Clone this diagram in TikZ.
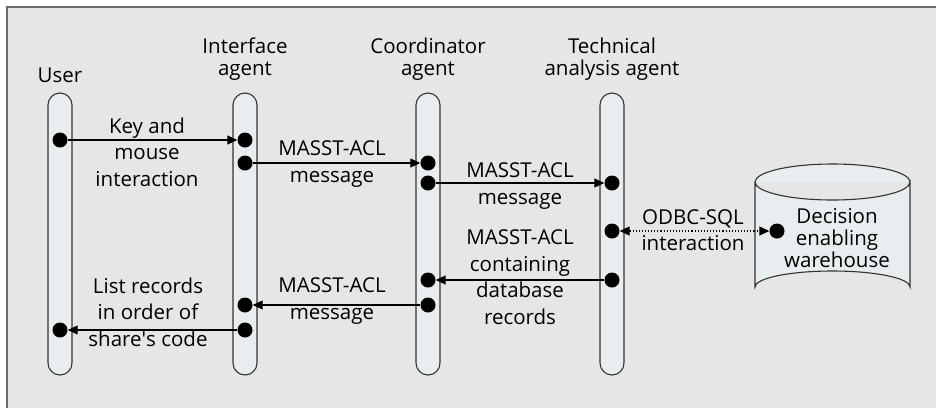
\documentclass[tikz,border=0pt]{standalone}
\usepackage{fontspec}
\setmainfont{Open Sans}
\usetikzlibrary{arrows.meta}
\definecolor{bggray}{HTML}{E6E6E6}
\definecolor{framegray}{HTML}{6A6A6A}
\definecolor{lanefill}{HTML}{E8EEF0}
\tikzset{
	lane/.style={draw=black!80, fill=lanefill, line width=1.1pt, rounded corners=12pt,
		minimum width=24pt, minimum height=282pt, inner sep=0pt},
	msgdot/.style={circle, fill=black, minimum size=15pt, inner sep=0pt},
	msg/.style={line width=1.1pt, -{Triangle[length=10pt,width=9pt]}},
	txt/.style={align=center, font=\fontsize{20.5}{26.5}\selectfont, inner sep=0pt},
	head/.style={align=center, font=\fontsize{20.5}{22}\selectfont, inner sep=0pt}
}
\newcommand{\lifeline}[2] % name, x
{
	% bar from y=93 down to y=375
	\node[lane] (#1) at (#2,234) {};
}
\newcommand{\msgdot}[3] % name, x, y
{
	\node[msgdot] (#1) at (#2,#3) {};
}
\begin{document}
\begin{tikzpicture}[x=1pt, y=-1pt]
	\useasboundingbox (0,0) rectangle (936,408);
	% background and frame
	\fill[bggray] (7,7) rectangle (936,408);
	\draw[framegray, line width=2.5pt] (7,408) -- (7,7) -- (936,7);
	
	\lifeline{user}{60};
	\lifeline{iface}{245};
	\lifeline{coord}{428};
	\lifeline{tech}{612};
	
	\node[head] (userlbl) at (60,75) {User};
	\node[head] (ifacelbl) at (245,59) {Interface\\agent};
	\node[head] (coordlbl) at (428,59) {Coordinator\\agent};
	\node[head] (techlbl) at (612,59) {Technical\\analysis agent};
	
	% warehouse
	\draw[black!80, fill=lanefill, line width=1.1pt] (755,182) -- (755,287)
		arc[start angle=180, end angle=360, x radius=77.5, y radius=16] -- (910,182)
		arc[start angle=0, end angle=180, x radius=77.5, y radius=18]
		arc[start angle=180, end angle=360, x radius=77.5, y radius=18];
	\node[head] (whouse) at (837,238) {Decision\\enabling\\warehouse};
	
	\msgdot{u1}{60}{140};
	\msgdot{i1}{245}{140};
	\msgdot{i2}{245}{163};
	\msgdot{c1}{428}{163};
	\msgdot{c2}{428}{183};
	\msgdot{t1}{612}{183};
	\msgdot{t2}{612}{231};
	\msgdot{w1}{777}{231};
	\msgdot{t3}{612}{280};
	\msgdot{c3}{428}{280};
	\msgdot{c4}{428}{305};
	\msgdot{i3}{245}{305};
	\msgdot{i4}{245}{330};
	\msgdot{u2}{60}{330};
	
	\draw[msg] (u1) -- (i1);
	\draw[msg] (i2) -- (c1);
	\draw[msg] (c2) -- (t1);
	\draw[msg, dotted, {Triangle[length=10pt,width=9pt]}-{Triangle[length=10pt,width=9pt]}] (t2) -- (w1);
	\draw[msg] (t3) -- (c3);
	\draw[msg] (c4) -- (i3);
	\draw[msg] (i4) -- (u2);
	
	\node[txt] (keylbl) at (147,152) {Key and\\mouse\\interaction};
	\node[txt] (msg1lbl) at (332,164) {MASST-ACL\\message};
	\node[txt] (msg2lbl) at (520,186) {MASST-ACL\\message};
	\node[txt] (odbclbl) at (693,230) {ODBC-SQL\\interaction};
	\node[txt] (msg3lbl) at (520,277) {MASST-ACL\\containing\\database\\records};
	\node[txt] (msg4lbl) at (332,301) {MASST-ACL\\message};
	\node[txt] (listlbl) at (148,312) {List records\\in order of\\share\textquotesingle s code};
\end{tikzpicture}
\end{document}
